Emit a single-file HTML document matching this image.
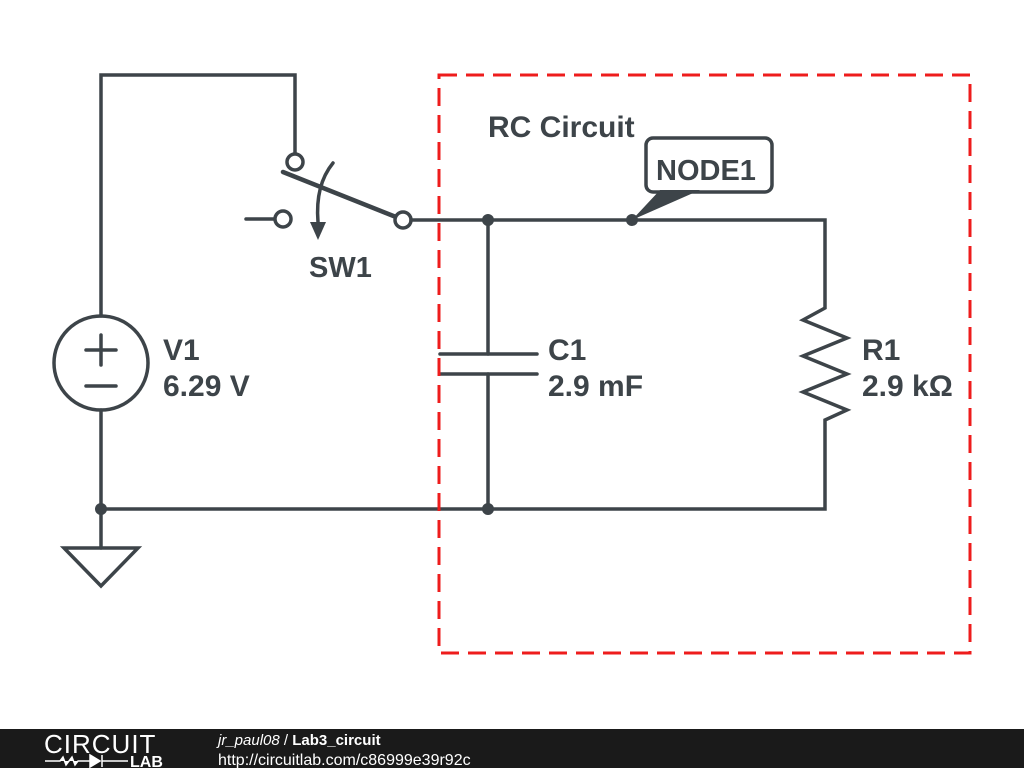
<!DOCTYPE html>
<html><head><meta charset="utf-8"><style>
html,body{margin:0;padding:0;background:#fff;width:1024px;height:768px;overflow:hidden}
svg{display:block}
text{font-family:"Liberation Sans",sans-serif}
</style></head><body>
<svg width="1024" height="768" viewBox="0 0 1024 768" xmlns="http://www.w3.org/2000/svg">
<g stroke="#3d4449" stroke-width="3.5" fill="none" stroke-linecap="round" stroke-linejoin="miter">
<polyline points="101,316 101,75 295,75 295,154"/>
<circle cx="295" cy="162" r="8" fill="#fff"/>
<line x1="283" y1="172" x2="396" y2="217" stroke-width="4.5"/>
<path d="M333,163 Q315,185 318,222"/>
<line x1="246" y1="219" x2="275" y2="219"/>
<circle cx="283" cy="219" r="8" fill="#fff"/>
<circle cx="403" cy="220" r="8" fill="#fff"/>
<polyline points="411,220 825,220 825,308 803,320 847,338 803,356 847,374 803,392 847,410 825,420 825,509 101,509"/>
<line x1="488" y1="220" x2="488" y2="354"/>
<line x1="440" y1="354" x2="537" y2="354"/>
<line x1="440" y1="374" x2="537" y2="374"/>
<line x1="488" y1="374" x2="488" y2="509"/>
<circle cx="101" cy="363" r="47"/>
<line x1="101" y1="410" x2="101" y2="548"/>
<line x1="86" y1="350" x2="116" y2="350"/>
<line x1="101" y1="335" x2="101" y2="365"/>
<line x1="86" y1="386" x2="116" y2="386"/>
<polygon points="64,548 138,548 101,586" stroke-linejoin="miter"/>
<rect x="646" y="138" width="126" height="54" rx="7" fill="#fff"/>
</g>
<polygon points="310,222 326,222 318,240" fill="#3d4449"/>
<polygon points="632,220 660,190 700,190" fill="#3d4449"/>
<g fill="#3d4449">
<circle cx="488" cy="220" r="6"/><circle cx="632" cy="220" r="6"/>
<circle cx="101" cy="509" r="6"/><circle cx="488" cy="509" r="6"/>
</g>
<rect x="439" y="75" width="531" height="578" fill="none" stroke="#ee1c1c" stroke-width="3" stroke-dasharray="18,9"/>
<g fill="#3d4449" font-weight="bold" font-size="30">
<text x="488" y="137" font-size="30">RC Circuit</text>
<text x="656" y="180" font-size="29">NODE1</text>
<text x="309" y="277" font-size="29">SW1</text>
<text x="163" y="360">V1</text>
<text x="163" y="396">6.29 V</text>
<text x="548" y="360">C1</text>
<text x="548" y="396">2.9 mF</text>
<text x="862" y="360">R1</text>
<text x="862" y="396">2.9 kΩ</text>
</g>
<rect x="0" y="729" width="1024" height="39" fill="#1a1a1a"/>
<text x="44" y="753" fill="#fff" font-size="26" letter-spacing="1">CIRCUIT</text>
<text x="130" y="767" fill="#fff" font-size="16" font-weight="bold">LAB</text>
<path d="M45,761 H60 l3,-4 l3,8 l3,-4 l3,-4 l3,8 l3,-4 H90 M90,755 v12 l10,-6z M102,755 v12 M102,761 H128" stroke="#fff" stroke-width="1.5" fill="#fff"/>
<text x="218" y="745" fill="#fff" font-size="15" font-family="DejaVu Sans, sans-serif"><tspan font-style="italic">jr_paul08</tspan> / <tspan font-weight="bold">Lab3_circuit</tspan></text>
<text x="218" y="765" fill="#fff" font-size="16" font-family="DejaVu Sans, sans-serif">http://circuitlab.com/c86999e39r92c</text>
</svg>
</body></html>
